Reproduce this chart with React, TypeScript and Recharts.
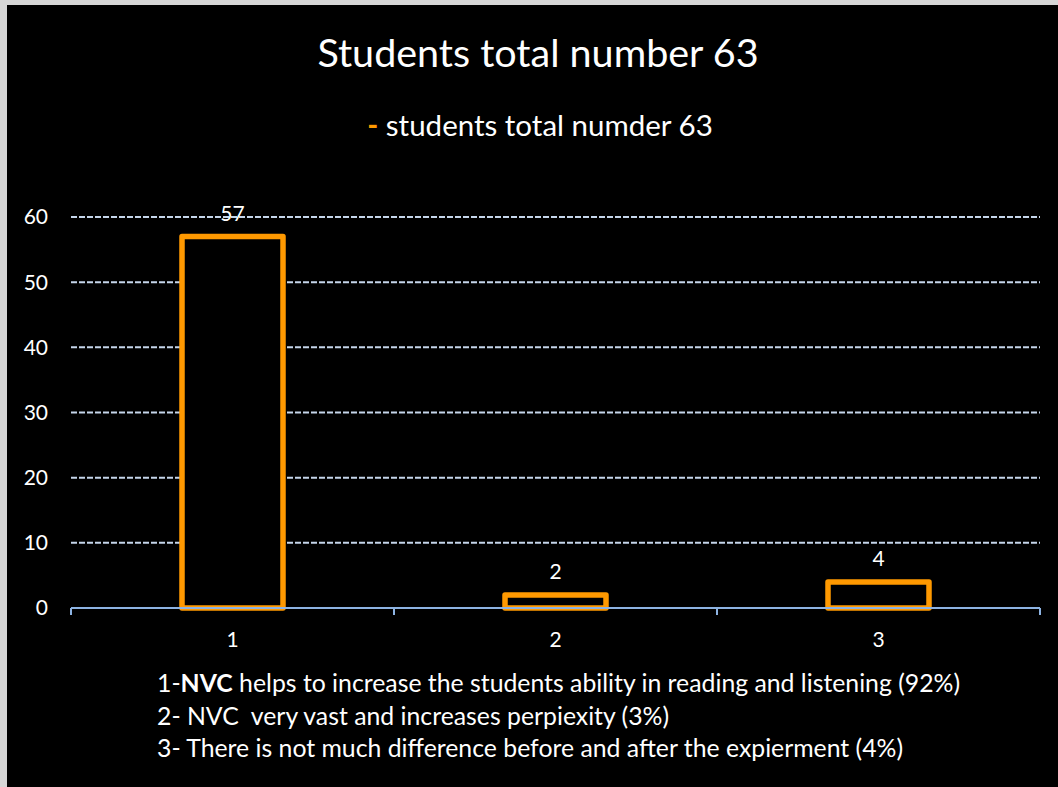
import { Bar, BarChart, CartesianGrid, LabelList, XAxis, YAxis } from "recharts";

const categories = ["1", "2", "3"];
const students = [57, 2, 4];
const yTicks = [0, 10, 20, 30, 40, 50, 60];

const notes = [
  { prefix: "1-", bold: "NVC", rest: " helps to increase the students ability in reading and listening (92%)" },
  { prefix: "2- NVC  very vast and increases perpiexity (3%)", bold: "", rest: "" },
  { prefix: "3- There is not much difference before and after the expierment (4%)", bold: "", rest: "" },
];

const data = categories.map((label, i) => ({ label, value: students[i] }));

const FONT = "Lato, 'Open Sans', sans-serif";
const ORANGE = "#ff9900";
const AXIS = "#8db3e2";

// category label plus the tick marks that sit on the band edges
function EdgeTick(props: any) {
  const { x, y, payload, index, visibleTicksCount } = props;
  const half = payload?.offset || 161.5;
  const last = index === (visibleTicksCount ?? 3) - 1;
  return (
    <g>
      <line x1={x - half} x2={x - half} y1={y} y2={y + 7} stroke={AXIS} strokeWidth={2} />
      {last && <line x1={x + half} x2={x + half} y1={y} y2={y + 7} stroke={AXIS} strokeWidth={2} />}
      <text x={x} y={y + 39} textAnchor="middle" fill="#fff" fontSize={21} fontFamily={FONT}>
        {payload.value}
      </text>
    </g>
  );
}

export default function App() {
  return (
    <div
      style={{
        position: "absolute",
        left: 0,
        top: 0,
        width: 1058,
        height: 787,
        background: "#d6d6d6",
        fontFamily: FONT,
        overflow: "hidden",
      }}
    >
      <div
        style={{
          position: "absolute",
          left: 7,
          top: 5,
          width: 1051,
          height: 782,
          background: "#000",
        }}
      />

      <div
        style={{
          position: "absolute",
          left: 0,
          top: 28,
          width: 1076,
          lineHeight: "48px",
          textAlign: "center",
          color: "#fff",
          fontSize: 39.5,
        }}
      >
        Students total number 63
      </div>

      <div
        style={{
          position: "absolute",
          left: 0,
          top: 106,
          width: 1080,
          lineHeight: "38px",
          textAlign: "center",
          color: "#fff",
          fontSize: 29.5,
        }}
      >
        <span style={{ color: ORANGE, fontWeight: 700 }}>-</span> students total numder 63
      </div>

      <div style={{ position: "absolute", left: 0, top: 0 }}>
        <BarChart
          width={1058}
          height={787}
          data={data}
          margin={{ top: 217, right: 18, left: 0, bottom: 149 }}
        >
          <CartesianGrid
            horizontal
            vertical={false}
            stroke="#c5d5ea"
            strokeWidth={2}
            strokeDasharray="6 2"
            horizontalValues={[10, 20, 30, 40, 50, 60]}
          />
          <XAxis
            dataKey="label"
            height={30}
            axisLine={{ stroke: AXIS, strokeWidth: 2 }}
            tickLine={false}
            tickSize={0}
            tickMargin={0}
            interval={0}
            tick={<EdgeTick />}
          />
          <YAxis
            domain={[0, 60]}
            ticks={yTicks}
            width={71}
            axisLine={false}
            tickLine={false}
            tickSize={0}
            tickMargin={23}
            tick={{ fill: "#fff", fontSize: 21, fontFamily: FONT }}
          />
          <Bar
            dataKey="value"
            barSize={101}
            fill="#000"
            stroke={ORANGE}
            strokeWidth={5.5}
            strokeLinejoin="round"
            isAnimationActive={false}
          >
            <LabelList
              dataKey="value"
              position="top"
              offset={16}
              fill="#fff"
              fontSize={21}
              fontFamily={FONT}
            />
          </Bar>
        </BarChart>
      </div>

      <div
        style={{
          position: "absolute",
          left: 157,
          top: 667,
          color: "#fff",
          fontSize: 24.8,
          lineHeight: "32.5px",
          whiteSpace: "pre",
        }}
      >
        {notes.map((n, i) => (
          <div key={i}>
            {n.prefix}
            {n.bold && <b>{n.bold}</b>}
            {n.rest}
          </div>
        ))}
      </div>
    </div>
  );
}
